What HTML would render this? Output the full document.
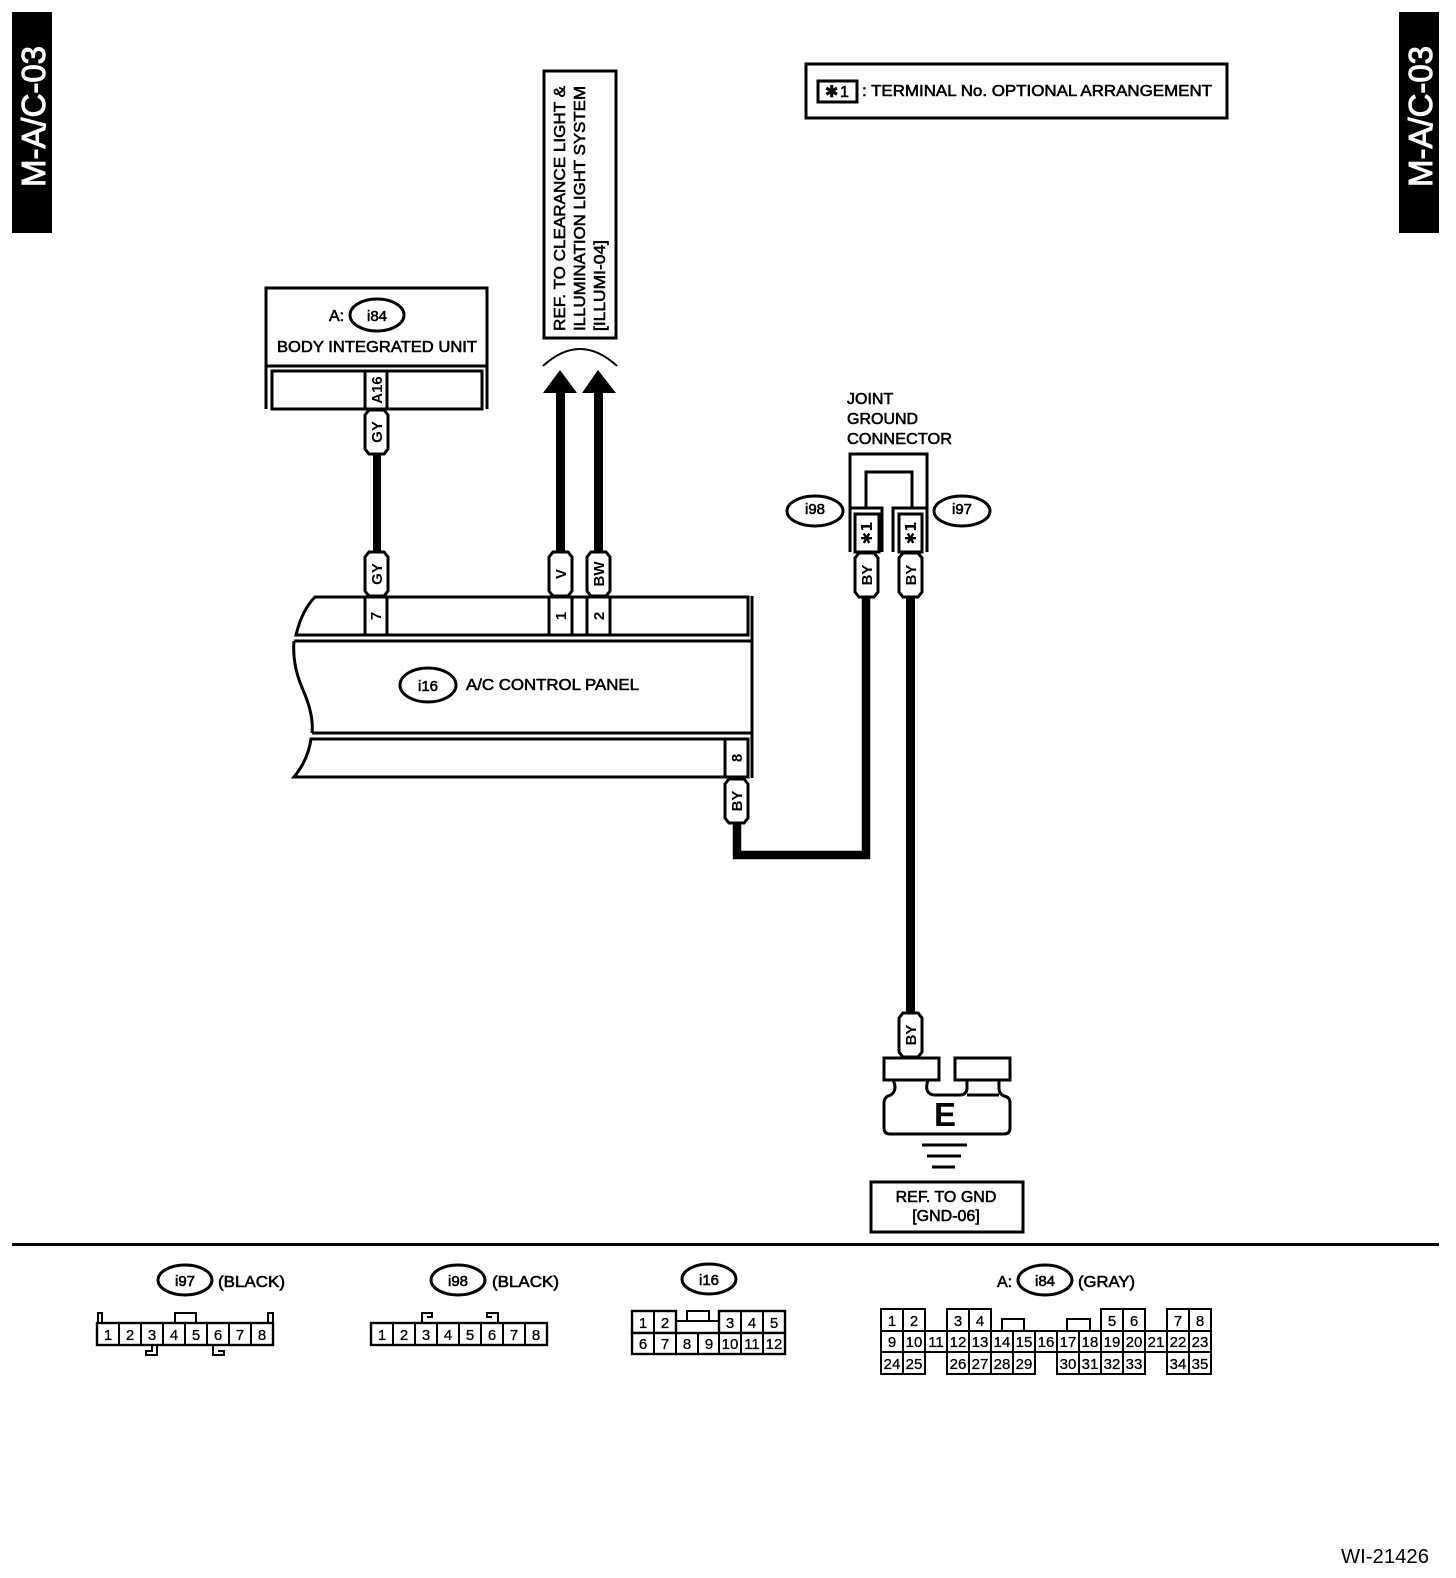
<!DOCTYPE html>
<html><head><meta charset="utf-8"><style>
html,body{margin:0;padding:0;background:#fff}
svg{display:block}
text{font-family:"Liberation Sans",sans-serif;fill:#000;stroke:#000;stroke-width:.6}
.w{fill:#fff;stroke:#fff;font-size:33px;stroke-width:1}
.l{font-size:16px}
.m{text-anchor:middle}
.p{font-size:15px;text-anchor:middle;font-weight:bold;stroke:none}
.d{font-size:15px;text-anchor:middle;stroke-width:.3}
.b{fill:none;stroke:#000;stroke-width:3}
.t{fill:none;stroke:#000;stroke-width:2}
.c{fill:#fff;stroke:#000;stroke-width:2.4}
</style></head><body>
<svg width="1456" height="1578" viewBox="0 0 1456 1578" xmlns="http://www.w3.org/2000/svg">
<defs><polygon id="pill" points="4,0 19,0 23,5 23,39 19,44 4,44 0,39 0,5" fill="#fff" stroke="#000" stroke-width="3"/></defs>
<rect width="1456" height="1578" fill="#fff"/>

<!-- side tabs -->
<rect x="12" y="12" width="40" height="221" fill="#000"/>
<rect x="1399" y="12" width="40" height="221" fill="#000"/>
<text class="w" transform="translate(45,187) rotate(-90)" textLength="141" lengthAdjust="spacingAndGlyphs">M-A/C-03</text>
<text class="w" transform="translate(1432,187) rotate(-90)" textLength="141" lengthAdjust="spacingAndGlyphs">M-A/C-03</text>

<!-- note -->
<rect class="b" x="806" y="64" width="421" height="54"/>
<rect class="b" x="818" y="81" width="39" height="21"/>
<text x="825" y="97" style="font-size:16px;font-family:'DejaVu Sans',sans-serif">✱</text>
<text x="840" y="97" class="l">1</text>
<text x="862" y="96" class="l" textLength="350" lengthAdjust="spacingAndGlyphs">: TERMINAL No. OPTIONAL ARRANGEMENT</text>

<!-- reference box -->
<rect class="b" x="544" y="71" width="72" height="267"/>
<text class="l" transform="translate(565,331) rotate(-90)" textLength="245" lengthAdjust="spacingAndGlyphs">REF. TO CLEARANCE LIGHT &amp;</text>
<text class="l" transform="translate(585,331) rotate(-90)" textLength="245" lengthAdjust="spacingAndGlyphs">ILLUMINATION LIGHT SYSTEM</text>
<text class="l" transform="translate(605,331) rotate(-90)" textLength="91" lengthAdjust="spacingAndGlyphs">[ILLUMI-04]</text>
<path d="M543 366Q580 332 617 366" fill="none" stroke="#000" stroke-width="2"/>
<polygon points="560,370 577,393 543,393"/>
<polygon points="598,370 616,393 582,393"/>
<rect x="556" y="392" width="9" height="162"/>
<rect x="594" y="392" width="9" height="162"/>

<!-- body integrated unit -->
<path class="b" d="M266 409V288H487V409M266 366H487"/>
<rect class="b" x="272" y="371" width="210" height="38"/>
<path class="b" d="M365 371V409M387 371V409"/>
<ellipse class="b" cx="377" cy="315" rx="27" ry="16"/>
<text x="329" y="321" class="l">A:</text>
<text x="377" y="321" class="l m" style="font-size:15px">i84</text>
<text x="277" y="352" class="l" textLength="200" lengthAdjust="spacingAndGlyphs">BODY INTEGRATED UNIT</text>
<text class="p" transform="translate(382,390) rotate(-90)">A16</text>
<rect x="373" y="452" width="8" height="102"/>
<use href="#pill" x="365" y="410"/>
<text class="p" transform="translate(382,432) rotate(-90)">GY</text>
<use href="#pill" x="365" y="552"/>
<text class="p" transform="translate(382,574) rotate(-90)">GY</text>
<use href="#pill" x="549" y="552"/>
<text class="p" transform="translate(566,574) rotate(-90)">V</text>
<use href="#pill" x="587" y="552"/>
<text class="p" transform="translate(604,574) rotate(-90)">BW</text>

<!-- A/C control panel -->
<path class="b" d="M296 635Q302 610 315 597H748V635Z"/>
<path class="b" d="M752 596V778"/>
<path class="b" d="M294 641H752M294 641Q292 665 303 690T312 733M312 733H752"/>
<path class="b" d="M311 739H748V777H294Q308 760 311 739Z"/>
<path class="b" d="M365 597V635M387 597V635M549 597V635M572 597V635M587 597V635M610 597V635M725 739V777"/>
<text class="p" transform="translate(381,616) rotate(-90)">7</text>
<text class="p" transform="translate(566,616) rotate(-90)">1</text>
<text class="p" transform="translate(604,616) rotate(-90)">2</text>
<text class="p" transform="translate(742,758) rotate(-90)">8</text>
<ellipse class="b" cx="428" cy="685" rx="28" ry="17"/>
<text x="428" y="691" class="l m" style="font-size:15px">i16</text>
<text x="466" y="690" class="l" textLength="173" lengthAdjust="spacingAndGlyphs">A/C CONTROL PANEL</text>

<!-- wires -->
<path d="M737 820V855H866V595" fill="none" stroke="#000" stroke-width="8.5"/>
<rect x="906" y="595" width="9" height="420"/>
<use href="#pill" x="725" y="779"/>
<text class="p" transform="translate(742,801) rotate(-90)">BY</text>

<!-- joint connector -->
<text x="847" y="404" class="l">JOINT</text>
<text x="847" y="424" class="l">GROUND</text>
<text x="847" y="444" class="l" textLength="105" lengthAdjust="spacingAndGlyphs">CONNECTOR</text>
<path class="b" d="M850 552V454H927V552M850 508H882V552M893 552V508H927M866 508V472H912V508"/>
<rect class="b" x="855" y="514" width="24" height="38"/>
<rect class="b" x="899" y="514" width="23" height="38"/>
<text transform="translate(872,533) rotate(-90)" text-anchor="middle" style="font-size:15px;font-family:'DejaVu Sans',sans-serif;stroke:none;font-weight:bold">✱1</text>
<text transform="translate(916,533) rotate(-90)" text-anchor="middle" style="font-size:15px;font-family:'DejaVu Sans',sans-serif;stroke:none;font-weight:bold">✱1</text>
<ellipse class="b" cx="815" cy="511" rx="28" ry="15"/>
<ellipse class="b" cx="962" cy="511" rx="28" ry="15"/>
<text x="815" y="514" class="l m" style="font-size:15px">i98</text>
<text x="962" y="514" class="l m" style="font-size:15px">i97</text>
<use href="#pill" x="855" y="553"/>
<text class="p" transform="translate(872,575) rotate(-90)">BY</text>
<use href="#pill" x="899" y="553"/>
<text class="p" transform="translate(916,575) rotate(-90)">BY</text>

<!-- ground -->
<use href="#pill" x="899" y="1013"/>
<text class="p" transform="translate(916,1035) rotate(-90)">BY</text>
<rect class="b" x="884" y="1058" width="55" height="22"/>
<rect class="b" x="955" y="1058" width="55" height="22"/>
<path class="b" d="M893 1080Q897 1088 893 1093Q890 1096 888 1096Q884 1098 884 1103V1128Q884 1134 890 1134H1004Q1010 1134 1010 1128V1103Q1010 1097 1004 1096Q999 1094 999 1088V1080M928 1080Q926 1086 927 1090Q929 1095 935 1095H960Q966 1095 967 1089V1080M967 1095H999"/>
<text x="945" y="1126" text-anchor="middle" style="font-size:33px;font-weight:bold;stroke:none">E</text>
<path class="b" d="M922 1145H967M927 1156H961M932 1167H955"/>
<rect class="b" x="871" y="1182" width="152" height="50"/>
<text x="946" y="1202" class="l m">REF. TO GND</text>
<text x="946" y="1221" class="l m">[GND-06]</text>

<!-- divider -->
<rect x="12" y="1243" width="1427" height="3"/>

<!-- connector i97 -->
<ellipse class="b" cx="185" cy="1280" rx="27" ry="15"/>
<text x="185" y="1286" class="l m" style="font-size:15px">i97</text>
<text x="218" y="1287" class="l" textLength="67" lengthAdjust="spacingAndGlyphs">(BLACK)</text>
<path class="t" d="M98 1323V1313H102V1323M268 1323V1313H273V1323M175 1323V1313H196V1323M157 1345V1355H146V1351H152V1345M213 1345V1355H224V1351H218"/>
<rect class="c" x="97" y="1323" width="176" height="22"/>
<path class="t" d="M119 1323V1345M141 1323V1345M163 1323V1345M185 1323V1345M207 1323V1345M229 1323V1345M251 1323V1345"/>
<text class="d" x="108" y="1340">1</text><text class="d" x="130" y="1340">2</text><text class="d" x="152" y="1340">3</text><text class="d" x="174" y="1340">4</text><text class="d" x="196" y="1340">5</text><text class="d" x="218" y="1340">6</text><text class="d" x="240" y="1340">7</text><text class="d" x="262" y="1340">8</text>

<!-- connector i98 -->
<ellipse class="b" cx="458" cy="1280" rx="27" ry="15"/>
<text x="458" y="1286" class="l m" style="font-size:15px">i98</text>
<text x="492" y="1287" class="l" textLength="67" lengthAdjust="spacingAndGlyphs">(BLACK)</text>
<path class="t" d="M422 1323V1313H432V1317H427M498 1323V1313H487V1317H492"/>
<rect class="c" x="371" y="1323" width="176" height="22"/>
<path class="t" d="M393 1323V1345M415 1323V1345M437 1323V1345M459 1323V1345M481 1323V1345M503 1323V1345M525 1323V1345"/>
<text class="d" x="382" y="1340">1</text><text class="d" x="404" y="1340">2</text><text class="d" x="426" y="1340">3</text><text class="d" x="448" y="1340">4</text><text class="d" x="470" y="1340">5</text><text class="d" x="492" y="1340">6</text><text class="d" x="514" y="1340">7</text><text class="d" x="536" y="1340">8</text>

<!-- connector i16 -->
<ellipse class="b" cx="709" cy="1279" rx="27" ry="15"/>
<text x="709" y="1285" class="l m" style="font-size:15px">i16</text>
<path class="t" d="M676 1321H719M687 1321V1311H709V1321"/>
<rect class="c" x="632" y="1311" width="44" height="22"/>
<rect class="c" x="719" y="1311" width="66" height="22"/>
<rect class="c" x="632" y="1333" width="153" height="21"/>
<path class="t" d="M654 1311V1354M741 1311V1354M763 1311V1354M676 1321V1354M698 1333V1354M719 1321V1354"/>
<text class="d" x="643" y="1328">1</text><text class="d" x="665" y="1328">2</text><text class="d" x="730" y="1328">3</text><text class="d" x="752" y="1328">4</text><text class="d" x="774" y="1328">5</text>
<text class="d" x="643" y="1349">6</text><text class="d" x="665" y="1349">7</text><text class="d" x="687" y="1349">8</text><text class="d" x="709" y="1349">9</text><text class="d" x="730" y="1349">10</text><text class="d" x="752" y="1349">11</text><text class="d" x="774" y="1349">12</text>

<!-- connector i84 -->
<text x="997" y="1287" class="l">A:</text>
<ellipse class="b" cx="1045" cy="1280" rx="27" ry="15"/>
<text x="1045" y="1286" class="l m" style="font-size:15px">i84</text>
<text x="1078" y="1287" class="l" textLength="57" lengthAdjust="spacingAndGlyphs">(GRAY)</text>
<path class="t" d="M1002 1331V1319H1024V1331M1067 1331V1319H1090V1331"/>
<path class="t" d="M881 1309H925V1331H881ZM903 1309V1331M947 1309H991V1331H947ZM969 1309V1331M1101 1309H1145V1331H1101ZM1123 1309V1331M1167 1309H1211V1331H1167ZM1189 1309V1331"/>
<path class="t" d="M881 1331H1211V1352H881ZM903 1331V1352M925 1331V1352M947 1331V1352M969 1331V1352M991 1331V1352M1013 1331V1352M1035 1331V1352M1057 1331V1352M1079 1331V1352M1101 1331V1352M1123 1331V1352M1145 1331V1352M1167 1331V1352M1189 1331V1352"/>
<path class="t" d="M881 1352H925V1374H881ZM903 1352V1374M947 1352H1035V1374H947ZM969 1352V1374M991 1352V1374M1013 1352V1374M1057 1352H1145V1374H1057ZM1079 1352V1374M1101 1352V1374M1123 1352V1374M1167 1352H1211V1374H1167ZM1189 1352V1374"/>
<text class="d" x="892" y="1326">1</text><text class="d" x="914" y="1326">2</text><text class="d" x="958" y="1326">3</text><text class="d" x="980" y="1326">4</text><text class="d" x="1112" y="1326">5</text><text class="d" x="1134" y="1326">6</text><text class="d" x="1178" y="1326">7</text><text class="d" x="1200" y="1326">8</text>
<text class="d" x="892" y="1347">9</text><text class="d" x="914" y="1347">10</text><text class="d" x="936" y="1347">11</text><text class="d" x="958" y="1347">12</text><text class="d" x="980" y="1347">13</text><text class="d" x="1002" y="1347">14</text><text class="d" x="1024" y="1347">15</text><text class="d" x="1046" y="1347">16</text><text class="d" x="1068" y="1347">17</text><text class="d" x="1090" y="1347">18</text><text class="d" x="1112" y="1347">19</text><text class="d" x="1134" y="1347">20</text><text class="d" x="1156" y="1347">21</text><text class="d" x="1178" y="1347">22</text><text class="d" x="1200" y="1347">23</text>
<text class="d" x="892" y="1369">24</text><text class="d" x="914" y="1369">25</text><text class="d" x="958" y="1369">26</text><text class="d" x="980" y="1369">27</text><text class="d" x="1002" y="1369">28</text><text class="d" x="1024" y="1369">29</text><text class="d" x="1068" y="1369">30</text><text class="d" x="1090" y="1369">31</text><text class="d" x="1112" y="1369">32</text><text class="d" x="1134" y="1369">33</text><text class="d" x="1178" y="1369">34</text><text class="d" x="1200" y="1369">35</text>

<text x="1341" y="1563" style="font-size:20px;stroke:none" textLength="88" lengthAdjust="spacingAndGlyphs">WI-21426</text>
</svg>
</body></html>
